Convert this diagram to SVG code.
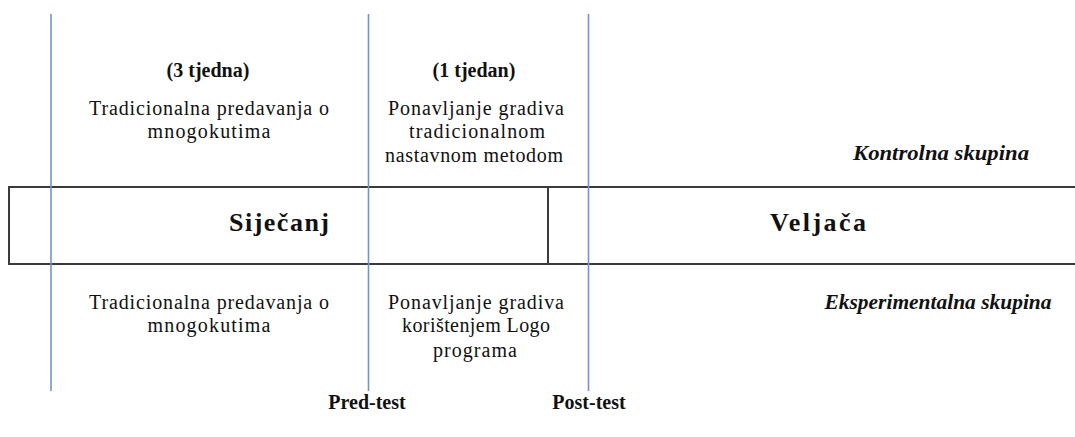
<svg xmlns="http://www.w3.org/2000/svg" width="1075" height="437" viewBox="0 0 1075 437">
  <style>
    .t { font-family: "Liberation Serif", "Times New Roman", serif; font-size: 20px; fill: #111; text-anchor: middle; }
    .b { font-weight: bold; }
    .bi { font-weight: bold; font-style: italic; font-size: 21px; }
    .m { font-weight: bold; font-size: 26px; }
    .box { fill: none; stroke: #3a3a3a; stroke-width: 2; }
    .blue { stroke: #6f96cc; stroke-width: 1.6; fill: none; }
  </style>
  <rect width="1075" height="437" fill="#ffffff"/>

  <g id="timeline-bar">
    <path class="box" d="M1076,187 H9 V264 H1076"/>
    <line class="box" x1="548" y1="187" x2="548" y2="264"/>
    <text class="t m" x="279" y="231" textLength="100" lengthAdjust="spacing">Siječanj</text>
    <text class="t m" x="818" y="231" textLength="96" lengthAdjust="spacing">Veljača</text>
  </g>

  <g id="connectors">
    <line class="blue" x1="51" y1="14" x2="51" y2="391"/>
    <line class="blue" x1="368.5" y1="14" x2="368.5" y2="391"/>
    <line class="blue" x1="588.5" y1="14" x2="588.5" y2="391"/>
  </g>

  <g id="control-phase1">
    <text class="t b" x="208" y="77">(3 tjedna)</text>
    <text class="t" x="209" y="115" textLength="240" lengthAdjust="spacing">Tradicionalna predavanja o</text>
    <text class="t" x="209" y="138" textLength="123" lengthAdjust="spacing">mnogokutima</text>
  </g>

  <g id="control-phase2">
    <text class="t b" x="474" y="77">(1 tjedan)</text>
    <text class="t" x="476" y="115" textLength="176" lengthAdjust="spacing">Ponavljanje gradiva</text>
    <text class="t" x="477" y="138" textLength="136" lengthAdjust="spacing">tradicionalnom</text>
    <text class="t" x="474" y="162" textLength="178" lengthAdjust="spacing">nastavnom metodom</text>
  </g>

  <g id="control-label">
    <text class="t bi" x="941" y="160" textLength="176" lengthAdjust="spacingAndGlyphs">Kontrolna skupina</text>
  </g>

  <g id="experimental-phase1">
    <text class="t" x="209" y="309" textLength="240" lengthAdjust="spacing">Tradicionalna predavanja o</text>
    <text class="t" x="209" y="332" textLength="123" lengthAdjust="spacing">mnogokutima</text>
  </g>

  <g id="experimental-phase2">
    <text class="t" x="476" y="309" textLength="176" lengthAdjust="spacing">Ponavljanje gradiva</text>
    <text class="t" x="476" y="332" textLength="148" lengthAdjust="spacing">korištenjem Logo</text>
    <text class="t" x="475" y="357" textLength="84" lengthAdjust="spacing">programa</text>
  </g>

  <g id="experimental-label">
    <text class="t bi" x="938" y="309" textLength="227" lengthAdjust="spacingAndGlyphs">Eksperimentalna skupina</text>
  </g>

  <g id="pre-test">
    <text class="t b" x="367" y="409">Pred-test</text>
  </g>
  <g id="post-test">
    <text class="t b" x="589" y="409">Post-test</text>
  </g>
</svg>
